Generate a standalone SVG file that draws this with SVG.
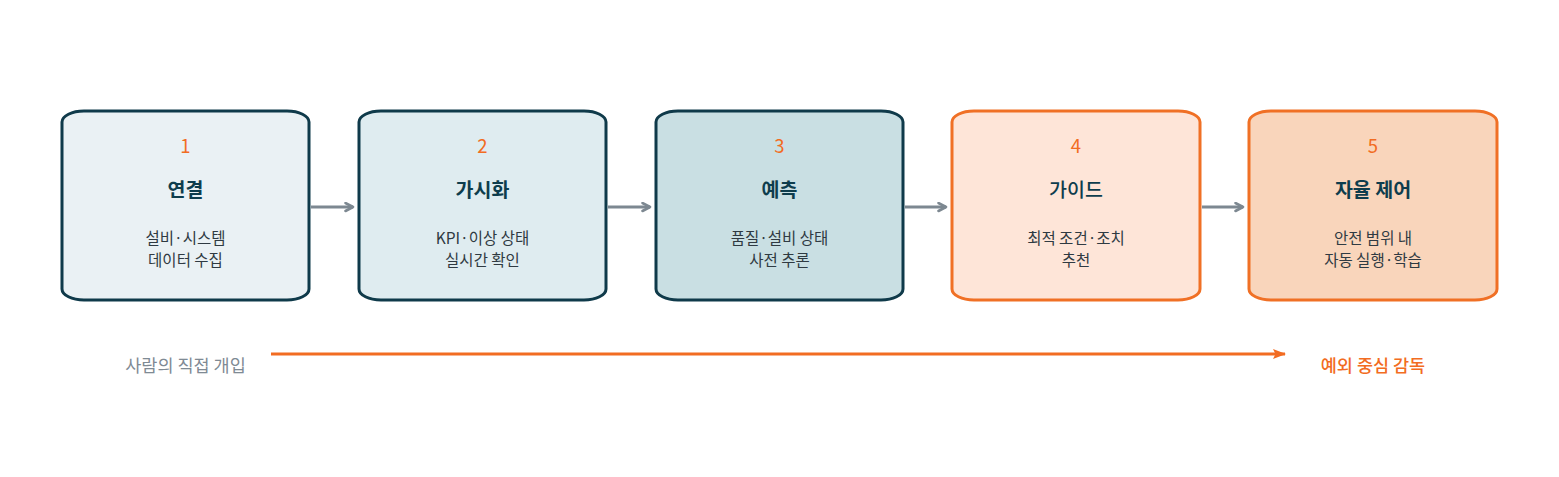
<svg xmlns="http://www.w3.org/2000/svg" width="1559" height="477" viewBox="0 0 1559 477">
<style>
text{font-family:"Noto Sans CJK KR","Noto Sans",sans-serif;text-anchor:middle}
.num{font-size:18.5px;fill:#f26c22}
.ttl{font-size:19.5px;font-weight:700;fill:#0e3d4d}
.dsc{font-size:15.5px;fill:#2f3a42}
.blue{stroke:#0f3a4a;stroke-width:3}
.org{stroke:#f07025;stroke-width:3}
.conn{stroke:#7d8891;stroke-width:3;fill:none}
</style>
<defs>
<marker id="ag" markerWidth="11" markerHeight="11" refX="9" refY="5.5" orient="auto" markerUnits="userSpaceOnUse" viewBox="0 0 11 11"><path d="M1.5,1.5 L9,5.5 L1.5,9.5" fill="none" stroke="#7d8891" stroke-width="2.6" stroke-linejoin="round" stroke-linecap="round"/></marker>
<marker id="ao" markerWidth="13" markerHeight="11" refX="12" refY="5.5" orient="auto" markerUnits="userSpaceOnUse" viewBox="0 0 13 11"><path d="M0,0.5 L13,5.5 L0,10.5 L2.5,5.5 Z" fill="#f26c22"/></marker>
</defs>
<rect width="1559" height="477" fill="#ffffff"/>
<g id="connectors">
<line class="conn" x1="311" y1="207" x2="353" y2="207" marker-end="url(#ag)"/>
<line class="conn" x1="608" y1="207" x2="650" y2="207" marker-end="url(#ag)"/>
<line class="conn" x1="905" y1="207" x2="946" y2="207" marker-end="url(#ag)"/>
<line class="conn" x1="1202" y1="207" x2="1243" y2="207" marker-end="url(#ag)"/>
<line x1="271" y1="354" x2="1285" y2="354" stroke="#f26c22" stroke-width="3" marker-end="url(#ao)"/>
</g>
<g id="node1">
<rect class="blue" x="62" y="111" width="247" height="189" rx="22" ry="11" fill="#eaf1f4"/>
<text class="num" x="185.5" y="153">1</text>
<text class="ttl" x="185.5" y="197">연결</text>
<text class="dsc"><tspan x="185.5" y="243.5">설비·시스템</tspan><tspan x="185.5" y="266">데이터 수집</tspan></text>
</g>
<g id="node2">
<rect class="blue" x="359" y="111" width="247" height="189" rx="22" ry="11" fill="#dfecf0"/>
<text class="num" x="482.5" y="153">2</text>
<text class="ttl" x="482.5" y="197">가시화</text>
<text class="dsc"><tspan x="482.5" y="243.5">KPI·이상 상태</tspan><tspan x="482.5" y="266">실시간 확인</tspan></text>
</g>
<g id="node3">
<rect class="blue" x="656" y="111" width="247" height="189" rx="22" ry="11" fill="#c9dfe3"/>
<text class="num" x="779.5" y="153">3</text>
<text class="ttl" x="779.5" y="197">예측</text>
<text class="dsc"><tspan x="779.5" y="243.5">품질·설비 상태</tspan><tspan x="779.5" y="266">사전 추론</tspan></text>
</g>
<g id="node4">
<rect class="org" x="952" y="111" width="248" height="189" rx="22" ry="11" fill="#fee5d8"/>
<text class="num" x="1076" y="153">4</text>
<text class="ttl" x="1076" y="197" style="font-weight:500">가이드</text>
<text class="dsc"><tspan x="1076" y="243.5">최적 조건·조치</tspan><tspan x="1076" y="266">추천</tspan></text>
</g>
<g id="node5">
<rect class="org" x="1249" y="111" width="248" height="189" rx="22" ry="11" fill="#f9d5bb"/>
<text class="num" x="1373" y="153">5</text>
<text class="ttl" x="1373" y="197">자율 제어</text>
<text class="dsc"><tspan x="1373" y="243.5">안전 범위 내</tspan><tspan x="1373" y="266">자동 실행·학습</tspan></text>
</g>
<g id="labels">
<text x="185.5" y="372" style="font-size:17.5px;fill:#7f8a94">사람의 직접 개입</text>
<text x="1373" y="372" style="font-size:17.5px;font-weight:500;fill:#f26c22">예외 중심 감독</text>
</g>
</svg>
